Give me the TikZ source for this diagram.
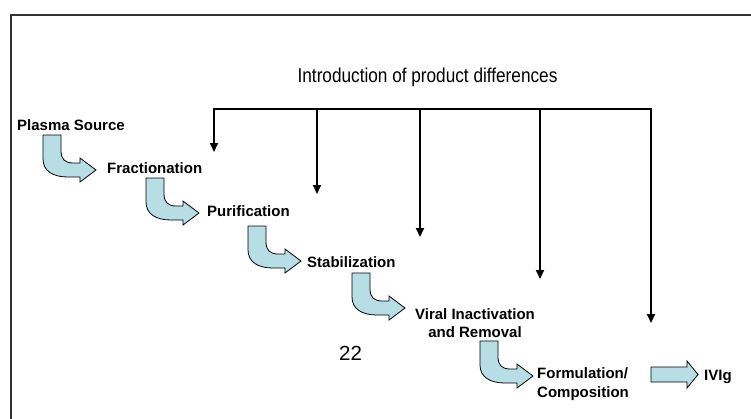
\documentclass[tikz,border=0pt]{standalone}
\usepackage{fontspec}
\setmainfont{Liberation Sans}
\usetikzlibrary{arrows.meta}
\definecolor{blockfill}{RGB}{183,222,229}
\begin{document}
\begin{tikzpicture}[x=1pt,y=-1pt,
  lbl/.style={font=\bfseries\fontsize{15}{18}\selectfont, inner sep=0pt, anchor=base west},
  block/.style={draw=black, line width=0.8pt, fill=blockfill, line join=miter},
  feed/.style={line width=2pt, -{Triangle[length=9pt,width=8pt]}},
  frameline/.style={line width=1.8pt, black!80},
  bentarrow/.pic={\draw[block] (0,0) -- (18,0) -- (18,16) .. controls (18,24) and (22,28) .. (30,28) -- (37,28) -- (37,23) -- (53,35) -- (37,47) -- (37,42) -- (25,42) .. controls (10,42) and (0,36) .. (0,24) -- cycle;}]
\useasboundingbox (0,0) rectangle (751,418);
\fill[white] (0,0) rectangle (751,418);
% frame
\draw[frameline] (11,420) -- (11,14.7) -- (753,14.7);

% title
\node[inner sep=0pt, anchor=base, font=\fontsize{20}{24}\selectfont] (title) at (427.5,82) {\scalebox{0.86}[1]{Introduction of product differences}};

% step labels
\node[lbl] (plasma) at (17,130.4) {Plasma Source};
\node[lbl] (fract) at (107,173.4) {Fractionation};
\node[lbl] (purif) at (207,216) {Purification};
\node[lbl] (stab) at (307,267) {Stabilization};
\node[lbl, anchor=base] (viral1) at (475,319.4) {Viral Inactivation};
\node[lbl, anchor=base] (viral2) at (475,337.4) {and Removal};
\node[lbl] (form1) at (537,378.4) {Formulation/};
\node[lbl] (form2) at (537,397.4) {Composition};
\node[lbl] (ivig) at (704,380.4) {IVIg};
\node[inner sep=0pt, anchor=base, font=\fontsize{20.5}{24}\selectfont] (page) at (350.5,360.4) {22};

% bent block arrows
\pic at (43,135) {bentarrow};
\pic at (146,178) {bentarrow};
\pic at (248,226) {bentarrow};
\pic at (352,273) {bentarrow};
\pic at (480,341) {bentarrow};
% straight block arrow
\draw[block] (651,367) -- (687,367) -- (687,361) -- (698,374.5) -- (687,388) -- (687,382) -- (651,382) -- cycle;

% feed-in bracket
\coordinate (c1) at (214,109.3);
\coordinate (c2) at (317,109.3);
\coordinate (c3) at (420,109.3);
\coordinate (c4) at (540,109.3);
\coordinate (c5) at (651,109.3);
\coordinate (t1) at (214,152);
\coordinate (t2) at (317,194);
\coordinate (t3) at (420,237);
\coordinate (t4) at (540,279);
\coordinate (t5) at (651,323);
\draw[feed] (c5) -- (c1) -- (t1);
\draw[feed] (c1) -- (c5) -- (t5);
\draw[feed] (c2) -- (t2);
\draw[feed] (c3) -- (t3);
\draw[feed] (c4) -- (t4);
\end{tikzpicture}
\end{document}
